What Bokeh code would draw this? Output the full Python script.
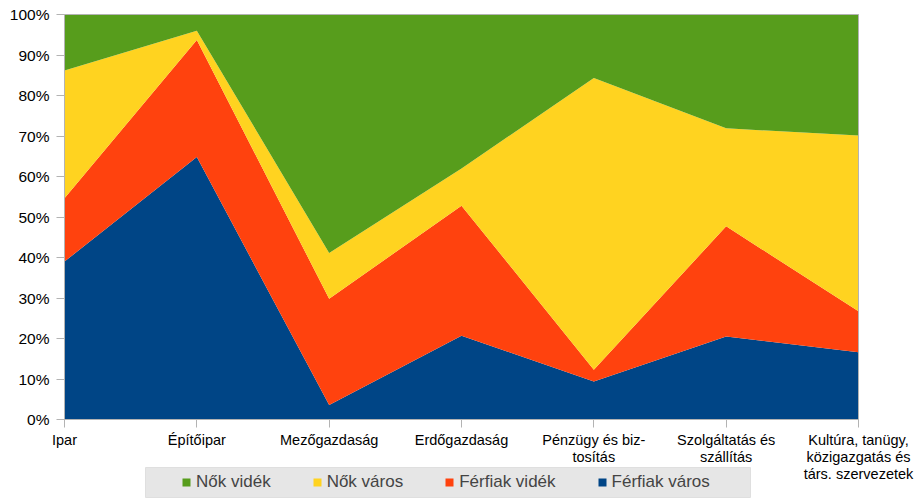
from bokeh.plotting import figure
from bokeh.models import (ColumnDataSource, Range1d, FixedTicker, PrintfTickFormatter,
                          Legend, LegendItem, BoxAnnotation, LinearAxis)
from bokeh.embed import file_html
from bokeh.resources import INLINE

categories = ["Ipar", "Építőipar", "Mezőgazdaság", "Erdőgazdaság",
              "Pénzügy és biz-\ntosítás", "Szolgáltatás és\nszállítás",
              "Kultúra, tanügy,\nközigazgatás és\ntárs. szervezetek"]
ferfiak_varos = [39.0, 64.8, 3.6, 20.7, 9.4, 20.5, 16.6]
ferfiak_videk = [15.6, 28.9, 26.2, 32.1, 2.9, 27.2, 10.1]
nok_varos = [31.6, 2.3, 11.3, 9.2, 72.0, 24.2, 43.4]
nok_videk = [13.8, 4.0, 58.9, 38.0, 15.7, 28.1, 29.9]
y_ticks = [0, 10, 20, 30, 40, 50, 60, 70, 80, 90, 100]

series_names = ["Férfiak város", "Férfiak vidék", "Nők város", "Nők vidék"]
series_vals = [ferfiak_varos, ferfiak_videk, nok_varos, nok_videk]
colors = ["#004586", "#ff420e", "#ffd320", "#579d1c"]

n = len(categories)
totals = [sum(s[i] for s in series_vals) for i in range(n)]
data = {"x": list(range(n))}
for name, vals in zip(series_names, series_vals):
    data[name] = [v / t * 100 for v, t in zip(vals, totals)]
source = ColumnDataSource(data)

# layout (canvas pixels); the frame covers the whole canvas
W, H = 922, 499
FL, FR, FT = 64, 858, 14      # plot area left, right, top (100%)
Y0 = 419                       # pixel row of 0%
px_per_pct = (Y0 - FT) / 100.0


def px_x(px):
    return (px - FL) / (FR - FL) * (n - 1)


def px_y(py):
    return (Y0 - py) / px_per_pct


FONT = "Liberation Sans"
GRAY = "#b3b3b3"

p = figure(width=W, height=H, output_backend="svg", toolbar_location=None,
           x_range=Range1d(px_x(0), px_x(W)), y_range=Range1d(px_y(H), px_y(0)),
           min_border=0)
p.outline_line_color = None
p.grid.visible = False

renderers = p.varea_stack(stackers=series_names, x="x", color=colors, source=source)

# y axis at the left edge of the plot area
p.yaxis.ticker = FixedTicker(ticks=y_ticks)
p.yaxis.formatter = PrintfTickFormatter(format="%d%%")
p.yaxis.bounds = (0, 100)
p.yaxis.fixed_location = 0
p.yaxis.major_label_text_font_size = "15.5px"
p.yaxis.major_label_standoff = 7

# x axis at 0%
p.xaxis.ticker = FixedTicker(ticks=list(range(n)))
p.xaxis.major_label_overrides = {i: c for i, c in enumerate(categories)}
p.xaxis.bounds = (0, n - 1)
p.xaxis.fixed_location = 0
p.xaxis.major_label_text_font_size = "14.5px"
p.xaxis.major_label_standoff = 4
p.xaxis.major_label_text_line_height = 1.07

for ax in (p.xaxis[0], p.yaxis[0]):
    ax.axis_line_color = GRAY
    ax.major_tick_line_color = GRAY
    ax.minor_tick_line_color = None
    ax.major_tick_in = 0
    ax.major_tick_out = 8
    ax.major_label_text_font = FONT
    ax.major_label_text_color = "#000000"

# right and top borders of the plot area as bare axes
raxis = LinearAxis(bounds=(0, 100), fixed_location=n - 1, ticker=FixedTicker(ticks=[]),
                   major_label_text_font_size="0px", axis_line_color=GRAY,
                   major_tick_line_color=None, minor_tick_line_color=None)
p.add_layout(raxis, "right")
taxis = LinearAxis(bounds=(0, n - 1), fixed_location=100, ticker=FixedTicker(ticks=[]),
                   major_label_text_font_size="0px", axis_line_color=GRAY,
                   major_tick_line_color=None, minor_tick_line_color=None)
p.add_layout(taxis, "above")

# legend box
box = BoxAnnotation(left=px_x(145), right=px_x(750), top=px_y(467), bottom=px_y(497),
                    fill_color="#e6e6e6", fill_alpha=1.0,
                    line_color=GRAY, line_width=1, level="annotation")
p.add_layout(box)

items = [LegendItem(label=name, renderers=[r]) for name, r in zip(series_names, renderers)]
items = items[::-1]
legend = Legend(items=items, orientation="horizontal",
                location=(181 - 5, H - 497),
                padding=5, margin=0, spacing=41, label_standoff=5,
                glyph_width=10, glyph_height=10, label_height=20,
                label_text_font=FONT, label_text_font_size="17px",
                background_fill_alpha=0, border_line_alpha=0)
p.add_layout(legend, "center")

open("out.html", "w").write(file_html(p, INLINE))
